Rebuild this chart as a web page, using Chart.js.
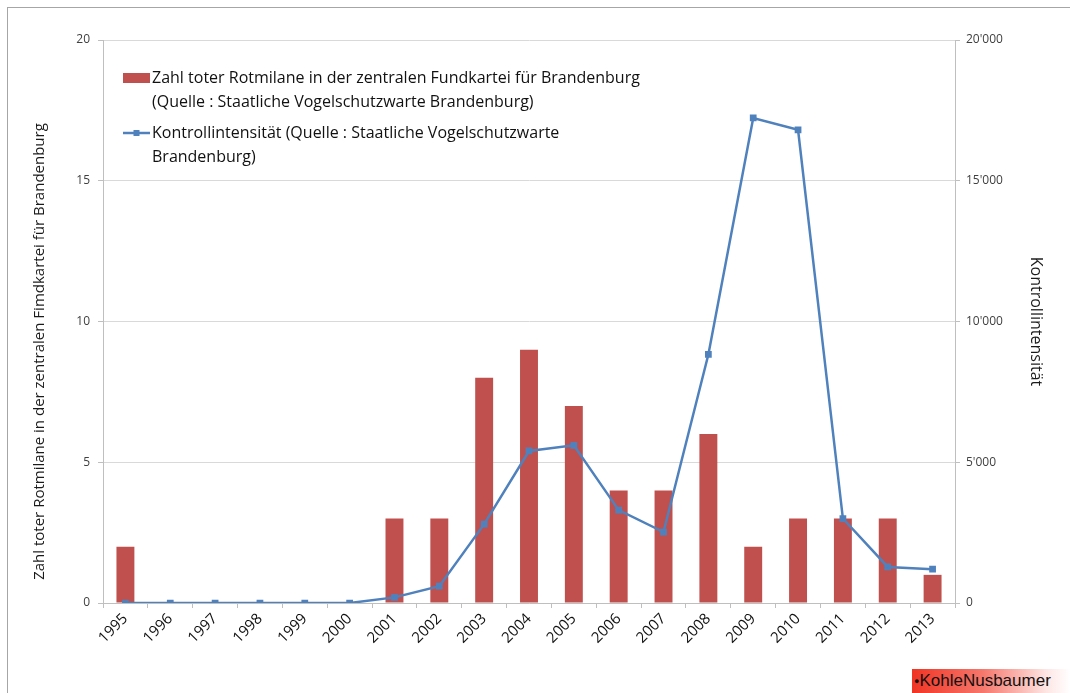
<!DOCTYPE html>
<html>
<head>
<meta charset="utf-8">
<script src="https://cdn.jsdelivr.net/npm/chart.js@4"></script>
<style>
  html, body { margin: 0; padding: 0; background: #fff; overflow: hidden; }
  #wrap { position: absolute; left: 0; top: 0; width: 1070px; height: 693px; }
  #frame { position: absolute; left: 7px; top: 7px; width: 1070px; height: 700px;
           border-left: 1px solid #a6a6a6; border-top: 1px solid #a6a6a6; pointer-events: none; }
  #wm { position: absolute; left: 912px; top: 669px; width: 158px; height: 24px;
        background: linear-gradient(to right, #f03424 0%, #f6776c 45%, #fde6e4 85%, #ffffff 100%);
        font-family: "Liberation Sans", Arial, sans-serif; font-size: 17px; line-height: 24px;
        color: #111; white-space: nowrap; overflow: hidden; }
  #wm span.dot { font-size: 9px; vertical-align: 2px; margin-left: 2px; }
</style>
</head>
<body>
<div id="wrap"><canvas id="c" width="1070" height="693"></canvas></div>
<div id="frame"></div>
<div id="wm"><span class="dot">&#9679;</span>KohleNusbaumer</div>
<script>
const years = ['1995','1996','1997','1998','1999','2000','2001','2002','2003','2004','2005','2006','2007','2008','2009','2010','2011','2012','2013'];
const deadKites = [2,0,0,0,0,0,3,3,8,9,7,4,4,6,2,3,3,3,1];
const controlIntensity = [0,0,0,0,0,0,200,600,2800,5400,5600,3300,2520,8830,17230,16810,3000,1280,1200];
const leftTicks = [0,5,10,15,20];
const rightTicks = [0,5000,10000,15000,20000];

const barLabel = ['Zahl toter Rotmilane in der zentralen Fundkartei für Brandenburg', '(Quelle : Staatliche Vogelschutzwarte Brandenburg)'];
const lineLabel = ['Kontrollintensität (Quelle : Staatliche Vogelschutzwarte', 'Brandenburg)'];
const leftTitle = 'Zahl toter Rotmilane in der zentralen Fimdkartei für Brandenburg';
const rightTitle = 'Kontrollintensität';

const FONT = '"Open Sans", "Noto Sans", sans-serif';
const BAR = '#C0504D';
const LINE = '#4F81BD';

const legendPlugin = {
  id: 'innerLegend',
  afterDatasetsDraw(chart) {
    const ctx = chart.ctx;
    const a = chart.chartArea;
    const x0 = a.left + 20, sw = 27;
    ctx.save();
    ctx.font = '16px ' + FONT;
    ctx.fillStyle = '#111';
    ctx.textBaseline = 'middle';
    // bar item
    let y = a.top + 38;
    ctx.fillStyle = BAR;
    ctx.fillRect(x0, y - 5, sw, 10);
    ctx.fillStyle = '#111';
    barLabel.forEach((t, i) => ctx.fillText(t, x0 + sw + 2, y + i * 24));
    // line item
    y = a.top + 93;
    ctx.strokeStyle = LINE; ctx.lineWidth = 2.5;
    ctx.beginPath(); ctx.moveTo(x0, y); ctx.lineTo(x0 + sw, y); ctx.stroke();
    ctx.fillStyle = LINE;
    ctx.fillRect(x0 + sw / 2 - 3, y - 3, 6, 6);
    ctx.fillStyle = '#111';
    lineLabel.forEach((t, i) => ctx.fillText(t, x0 + sw + 2, y + i * 24));
    // left axis title
    ctx.save();
    ctx.font = '15px ' + FONT;
    ctx.fillStyle = '#1a1a1a';
    ctx.textAlign = 'center';
    ctx.translate(40, (a.top + a.bottom) / 2 + 30);
    ctx.rotate(-Math.PI / 2);
    ctx.fillText(leftTitle, 0, 0);
    ctx.restore();
    ctx.restore();
  }
};

new Chart(document.getElementById('c'), {
  data: {
    labels: years,
    datasets: [
      {
        type: 'line', label: lineLabel.join(' '), data: controlIntensity, yAxisID: 'y2',
        borderColor: LINE, backgroundColor: LINE, borderWidth: 2.5, tension: 0,
        pointStyle: 'rect', pointRadius: 3, pointHoverRadius: 3, order: 0
      },
      {
        type: 'bar', label: barLabel.join(' '), data: deadKites, yAxisID: 'y',
        backgroundColor: BAR, borderWidth: 0, barPercentage: 0.4, categoryPercentage: 1, order: 1
      }
    ]
  },
  options: {
    responsive: false, animation: false,
    layout: { padding: { top: 40, left: 0, right: 0, bottom: 0 } },
    plugins: { legend: { display: false }, tooltip: { enabled: false } },
    scales: {
      x: {
        offset: true,
        grid: { offset: true, drawOnChartArea: false, drawTicks: true, tickLength: 5, color: '#bfbfbf' },
        border: { color: '#bfbfbf' },
        ticks: { maxRotation: 45, minRotation: 45, color: '#111', font: { family: FONT, size: 15 }, padding: 2 },
        afterFit(s) { s.height = 90; }
      },
      y: {
        position: 'left', min: 0, max: 20,
        afterBuildTicks(s) { s.ticks = leftTicks.map(v => ({ value: v })); },
        grid: { color: '#d9d9d9', tickLength: 5, tickColor: '#bfbfbf' },
        border: { color: '#bfbfbf' },
        ticks: { color: '#404040', font: { family: FONT, size: 12 }, padding: 8 },
        afterFit(s) { s.width = 103; }
      },
      y2: {
        position: 'right', min: 0, max: 20000,
        afterBuildTicks(s) { s.ticks = rightTicks.map(v => ({ value: v })); },
        grid: { drawOnChartArea: false, tickLength: 5, color: '#bfbfbf' },
        border: { color: '#bfbfbf' },
        ticks: {
          color: '#404040', font: { family: FONT, size: 12 }, padding: 6,
          callback: v => String(v).replace(/\B(?=(\d{3})+(?!\d))/g, "'")
        },
        title: { display: true, text: rightTitle, color: '#1a1a1a', font: { family: FONT, size: 16 }, padding: { top: 25, bottom: 0 } },
        afterFit(s) { s.width = 115; }
      }
    }
  },
  plugins: [legendPlugin]
});
</script>
</body>
</html>
